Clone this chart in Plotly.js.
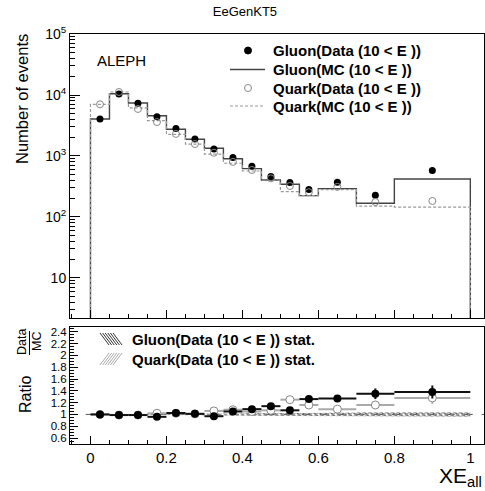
<!DOCTYPE html>
<html>
<head>
<meta charset="utf-8">
<script src="https://cdn.plot.ly/plotly-3.0.1.min.js"></script>
<style>html,body{margin:0;padding:0;background:#fff;}#chart{width:485px;height:491px;}</style>
</head>
<body>
<div id="chart"></div>
<script>
// ---- data ----
const binEdges = [0,0.05,0.1,0.15,0.2,0.25,0.3,0.35,0.4,0.45,0.5,0.55,0.6,0.7,0.8,1.0];
const gluonMC   = [4050,10500,7400,4580,2740,1880,1340,900,620,405,345,224,292,168,420];
const gluonData = [4050,10400,7330,4400,2810,1900,1300,945,676,462,369,282,371,227,580];
const quarkMC   = [7030,11200,6170,3800,2270,1570,1070,760,568,400,260,224,282,151,145];
const quarkData = [7030,11200,5900,3600,2300,1570,1130,800,590,430,322,255,312,176,183];
const gluonRatio    = [1.00,0.99,0.99,0.96,1.025,1.01,0.97,1.05,1.09,1.14,1.07,1.26,1.27,1.35,1.38];
const gluonRatioErr = [0.01,0.01,0.01,0.01,0.01,0.012,0.015,0.018,0.02,0.025,0.03,0.04,0.04,0.09,0.11];
const quarkRatio    = [1.00,0.99,0.99,1.02,1.02,1.01,1.06,1.08,1.05,1.07,1.25,1.16,1.09,1.16,1.28];
const quarkRatioErr = [0.01,0.01,0.01,0.01,0.012,0.014,0.016,0.02,0.022,0.025,0.03,0.04,0.04,0.07,0.1];
const gluonStat = [0.004,0.004,0.005,0.006,0.008,0.01,0.012,0.015,0.02,0.024,0.026,0.03,0.028,0.034,0.034];
const quarkStat = [0.004,0.004,0.005,0.006,0.008,0.01,0.012,0.016,0.021,0.025,0.028,0.032,0.03,0.036,0.038];
const yTickVals = [10,100,1000,10000,100000];
const yTickText = ['10','10<sup>2</sup>','10<sup>3</sup>','10<sup>4</sup>','10<sup>5</sup>'];
const legendTop = ['Gluon(Data (10 &lt; E ))','Gluon(MC (10 &lt; E ))','Quark(Data (10 &lt; E ))','Quark(MC (10 &lt; E ))'];
const legendBottom = ['Gluon(Data (10 &lt; E )) stat.','Quark(Data (10 &lt; E )) stat.'];

// ---- helpers ----
const nb = binEdges.length - 1;
const centers = [], halfW = [];
for (let i = 0; i < nb; i++) { centers.push((binEdges[i]+binEdges[i+1])/2); halfW.push((binEdges[i+1]-binEdges[i])/2); }
const FLOOR = 1e-3;
function stepXY(vals) {
  const x = [binEdges[0]], y = [FLOOR];
  for (let i = 0; i < nb; i++) { x.push(binEdges[i]); y.push(vals[i]); }
  x.push(binEdges[nb]); y.push(vals[nb-1]);
  x.push(binEdges[nb]); y.push(FLOOR);
  return {x, y};
}
function bandXY(stat) {
  const x = [], y = [];
  for (let i = 0; i < nb; i++) { x.push(binEdges[i], binEdges[i+1]); y.push(1+stat[i], 1+stat[i]); }
  for (let i = nb-1; i >= 0; i--) { x.push(binEdges[i+1], binEdges[i]); y.push(1-stat[i], 1-stat[i]); }
  x.push(x[0]); y.push(y[0]);
  return {x, y};
}
const minorLog = [];
for (let d = 1; d <= 10000; d *= 10) for (let k = 2; k <= 9; k++) minorLog.push(k*d);

// pixel -> paper (plot area: left 70, width 414; top 34, height 410)
const L = 70, W = 414, T = 34, H = 410;
const px = v => (v - L) / W;
const py = v => (T + H - v) / H;

const gStep = stepXY(gluonMC), qStep = stepXY(quarkMC);
const gBand = bandXY(gluonStat), qBand = bandXY(quarkStat);
const FONT = 'Liberation Sans, Arial, Helvetica, sans-serif';

const traces = [
  {x: gStep.x, y: gStep.y, type:'scatter', mode:'lines', showlegend:false,
   line:{color:'#444', width:1.4, shape:'hv'}, xaxis:'x', yaxis:'y'},
  {x: qStep.x, y: qStep.y, type:'scatter', mode:'lines', showlegend:false,
   line:{color:'#999', width:1.2, shape:'hv', dash:'3px,2px'}, xaxis:'x', yaxis:'y'},
  {x: centers, y: gluonData, type:'scatter', mode:'markers', showlegend:false,
   marker:{color:'#000', size:7, symbol:'circle'}, xaxis:'x', yaxis:'y'},
  {x: centers, y: quarkData, type:'scatter', mode:'markers', showlegend:false,
   marker:{color:'#888', size:7, symbol:'circle-open', line:{color:'#888', width:1}}, xaxis:'x', yaxis:'y'},

  {x: gBand.x, y: gBand.y, type:'scatter', mode:'lines', fill:'toself', showlegend:false,
   line:{width:0, color:'rgba(0,0,0,0)'}, fillcolor:'rgba(0,0,0,0)',
   fillpattern:{shape:'\\', fgcolor:'#444', bgcolor:'rgba(0,0,0,0)', size:4, solidity:0.35},
   xaxis:'x2', yaxis:'y2', hoverinfo:'skip'},
  {x: qBand.x, y: qBand.y, type:'scatter', mode:'lines', fill:'toself', showlegend:false,
   line:{width:0, color:'rgba(0,0,0,0)'}, fillcolor:'rgba(0,0,0,0)',
   fillpattern:{shape:'/', fgcolor:'#999', bgcolor:'rgba(0,0,0,0)', size:4, solidity:0.35},
   xaxis:'x2', yaxis:'y2', hoverinfo:'skip'},

  {x: centers, y: quarkRatio, type:'scatter', mode:'markers', showlegend:false,
   marker:{color:'#fff', size:8, symbol:'circle', line:{color:'#888', width:1}},
   error_x:{type:'data', array:halfW, color:'#aaa', thickness:2, width:0},
   error_y:{type:'data', array:quarkRatioErr, color:'#aaa', thickness:2, width:0},
   xaxis:'x2', yaxis:'y2'},
  {x: centers, y: gluonRatio, type:'scatter', mode:'markers', showlegend:false,
   marker:{color:'#000', size:8, symbol:'circle'},
   error_x:{type:'data', array:halfW, color:'#111', thickness:2, width:0},
   error_y:{type:'data', array:gluonRatioErr, color:'#111', thickness:2, width:0},
   xaxis:'x2', yaxis:'y2'}
];

const axisCommon = {showline:true, mirror:true, linecolor:'#000', linewidth:1, ticks:'inside',
  tickcolor:'#000', showgrid:false, zeroline:false};

const shapes = [
  {type:'line', xref:'x2', yref:'y2', x0:-0.06, x1:1.05, y0:1, y1:1, line:{color:'#555', width:1, dash:'dash'}, layer:'below'},
  // fraction bar of Data/MC
  {type:'line', xref:'paper', yref:'paper', x0:px(29.5), x1:px(29.5), y0:py(331), y1:py(355), line:{color:'#000', width:1}},
  // top legend symbols
  {type:'circle', xref:'paper', yref:'paper', x0:px(244.5), x1:px(251.5), y0:py(54), y1:py(47), fillcolor:'#000', line:{color:'#000', width:1}},
  {type:'line', xref:'paper', yref:'paper', x0:px(230), x1:px(265), y0:py(69.5), y1:py(69.5), line:{color:'#444', width:1.4}},
  {type:'circle', xref:'paper', yref:'paper', x0:px(244.5), x1:px(251.5), y0:py(91.5), y1:py(84.5), fillcolor:'rgba(0,0,0,0)', line:{color:'#888', width:1}},
  {type:'line', xref:'paper', yref:'paper', x0:px(230), x1:px(265), y0:py(106), y1:py(106), line:{color:'#999', width:1.2, dash:'3px,2px'}}
];
// hatched legend boxes
for (let k = 0; k < 6; k++) {
  const a = 100 + 2.6*k;
  shapes.push({type:'line', xref:'paper', yref:'paper', x0:px(a), x1:px(a+9), y0:py(333), y1:py(345), line:{color:'#333', width:1}});
  shapes.push({type:'line', xref:'paper', yref:'paper', x0:px(a), x1:px(a+9), y0:py(365), y1:py(353), line:{color:'#aaa', width:1}});
}

const annotations = [
  {text:'ALEPH', xref:'paper', yref:'paper', x:px(95), y:py(61), xanchor:'left', yanchor:'middle', showarrow:false,
   font:{family:FONT, size:15}},
  {text:'Number of events', xref:'paper', yref:'paper', x:px(22), y:py(32), xanchor:'center', yanchor:'top',
   textangle:-90, showarrow:false, font:{family:FONT, size:16.5}},
  {text:'Ratio', xref:'paper', yref:'paper', x:px(25), y:py(395), xanchor:'center', yanchor:'middle',
   textangle:-90, showarrow:false, font:{family:FONT, size:16}},
  {text:'Data', xref:'paper', yref:'paper', x:px(22), y:py(342), xanchor:'center', yanchor:'middle',
   textangle:-90, showarrow:false, font:{family:FONT, size:12.5}},
  {text:'MC', xref:'paper', yref:'paper', x:px(37), y:py(342), xanchor:'center', yanchor:'middle',
   textangle:-90, showarrow:false, font:{family:FONT, size:12.5}},
  {text:'XE<sub>all</sub>', xref:'paper', yref:'paper', x:1.0, y:py(492), xanchor:'right', yanchor:'bottom',
   showarrow:false, font:{family:FONT, size:21}}
];
const rowsTop = [50.5, 69.5, 88, 106];
legendTop.forEach((t, i) => annotations.push({text:'<b>'+t+'</b>', xref:'paper', yref:'paper', x:px(271), y:py(rowsTop[i]),
  xanchor:'left', yanchor:'middle', showarrow:false, font:{family:FONT, size:15}}));
const rowsBottom = [339, 359];
legendBottom.forEach((t, i) => annotations.push({text:'<b>'+t+'</b>', xref:'paper', yref:'paper', x:px(130), y:py(rowsBottom[i]),
  xanchor:'left', yanchor:'middle', showarrow:false, font:{family:FONT, size:15}}));

const layout = {
  width:485, height:491,
  margin:{l:L, r:485-L-W, t:T, b:491-T-H},
  paper_bgcolor:'#fff', plot_bgcolor:'#fff',
  showlegend:false,
  font:{family:FONT, color:'#000'},
  title:{text:'EeGenKT5', x:0.505, xanchor:'center', xref:'container', y:0.977, yanchor:'middle', yref:'container',
         font:{family:FONT, size:13, color:'#000'}},
  xaxis:Object.assign({}, axisCommon, {domain:[0,1], range:[-0.0539,1.036], anchor:'y', showticklabels:false,
    tickvals:[0,0.2,0.4,0.6,0.8,1.0], ticklen:8,
    minor:{ticks:'inside', ticklen:4, dtick:0.05, tick0:0, tickcolor:'#000'}}),
  yaxis:Object.assign({}, axisCommon, {domain:[(444-318)/410,1], type:'log', range:[0.344,5], anchor:'x',
    tickvals:yTickVals, ticktext:yTickText, ticklen:10, tickfont:{family:FONT, size:14},
    minor:{ticks:'inside', ticklen:5, tickvals:minorLog, tickcolor:'#000'}}),
  xaxis2:Object.assign({}, axisCommon, {domain:[0,1], range:[-0.0539,1.036], anchor:'y2',
    tickvals:[0,0.2,0.4,0.6,0.8,1.0], ticktext:['0','0.2','0.4','0.6','0.8','1'], ticklen:8,
    tickfont:{family:FONT, size:15},
    minor:{ticks:'inside', ticklen:4, dtick:0.05, tick0:0, tickcolor:'#000'}}),
  yaxis2:Object.assign({}, axisCommon, {domain:[0,(444-327)/410], range:[0.5,2.48], anchor:'x2',
    tickvals:[0.6,0.8,1,1.2,1.4,1.6,1.8,2,2.2,2.4], ticktext:['0.6','0.8','1','1.2','1.4','1.6','1.8','2','2.2','2.4'],
    ticklen:8, tickfont:{family:FONT, size:11.5},
    minor:{ticks:'inside', ticklen:4, dtick:0.05, tick0:0.5, tickcolor:'#000'}}),
  shapes: shapes,
  annotations: annotations
};

Plotly.newPlot('chart', traces, layout, {displayModeBar:false, staticPlot:true});
</script>
</body>
</html>
